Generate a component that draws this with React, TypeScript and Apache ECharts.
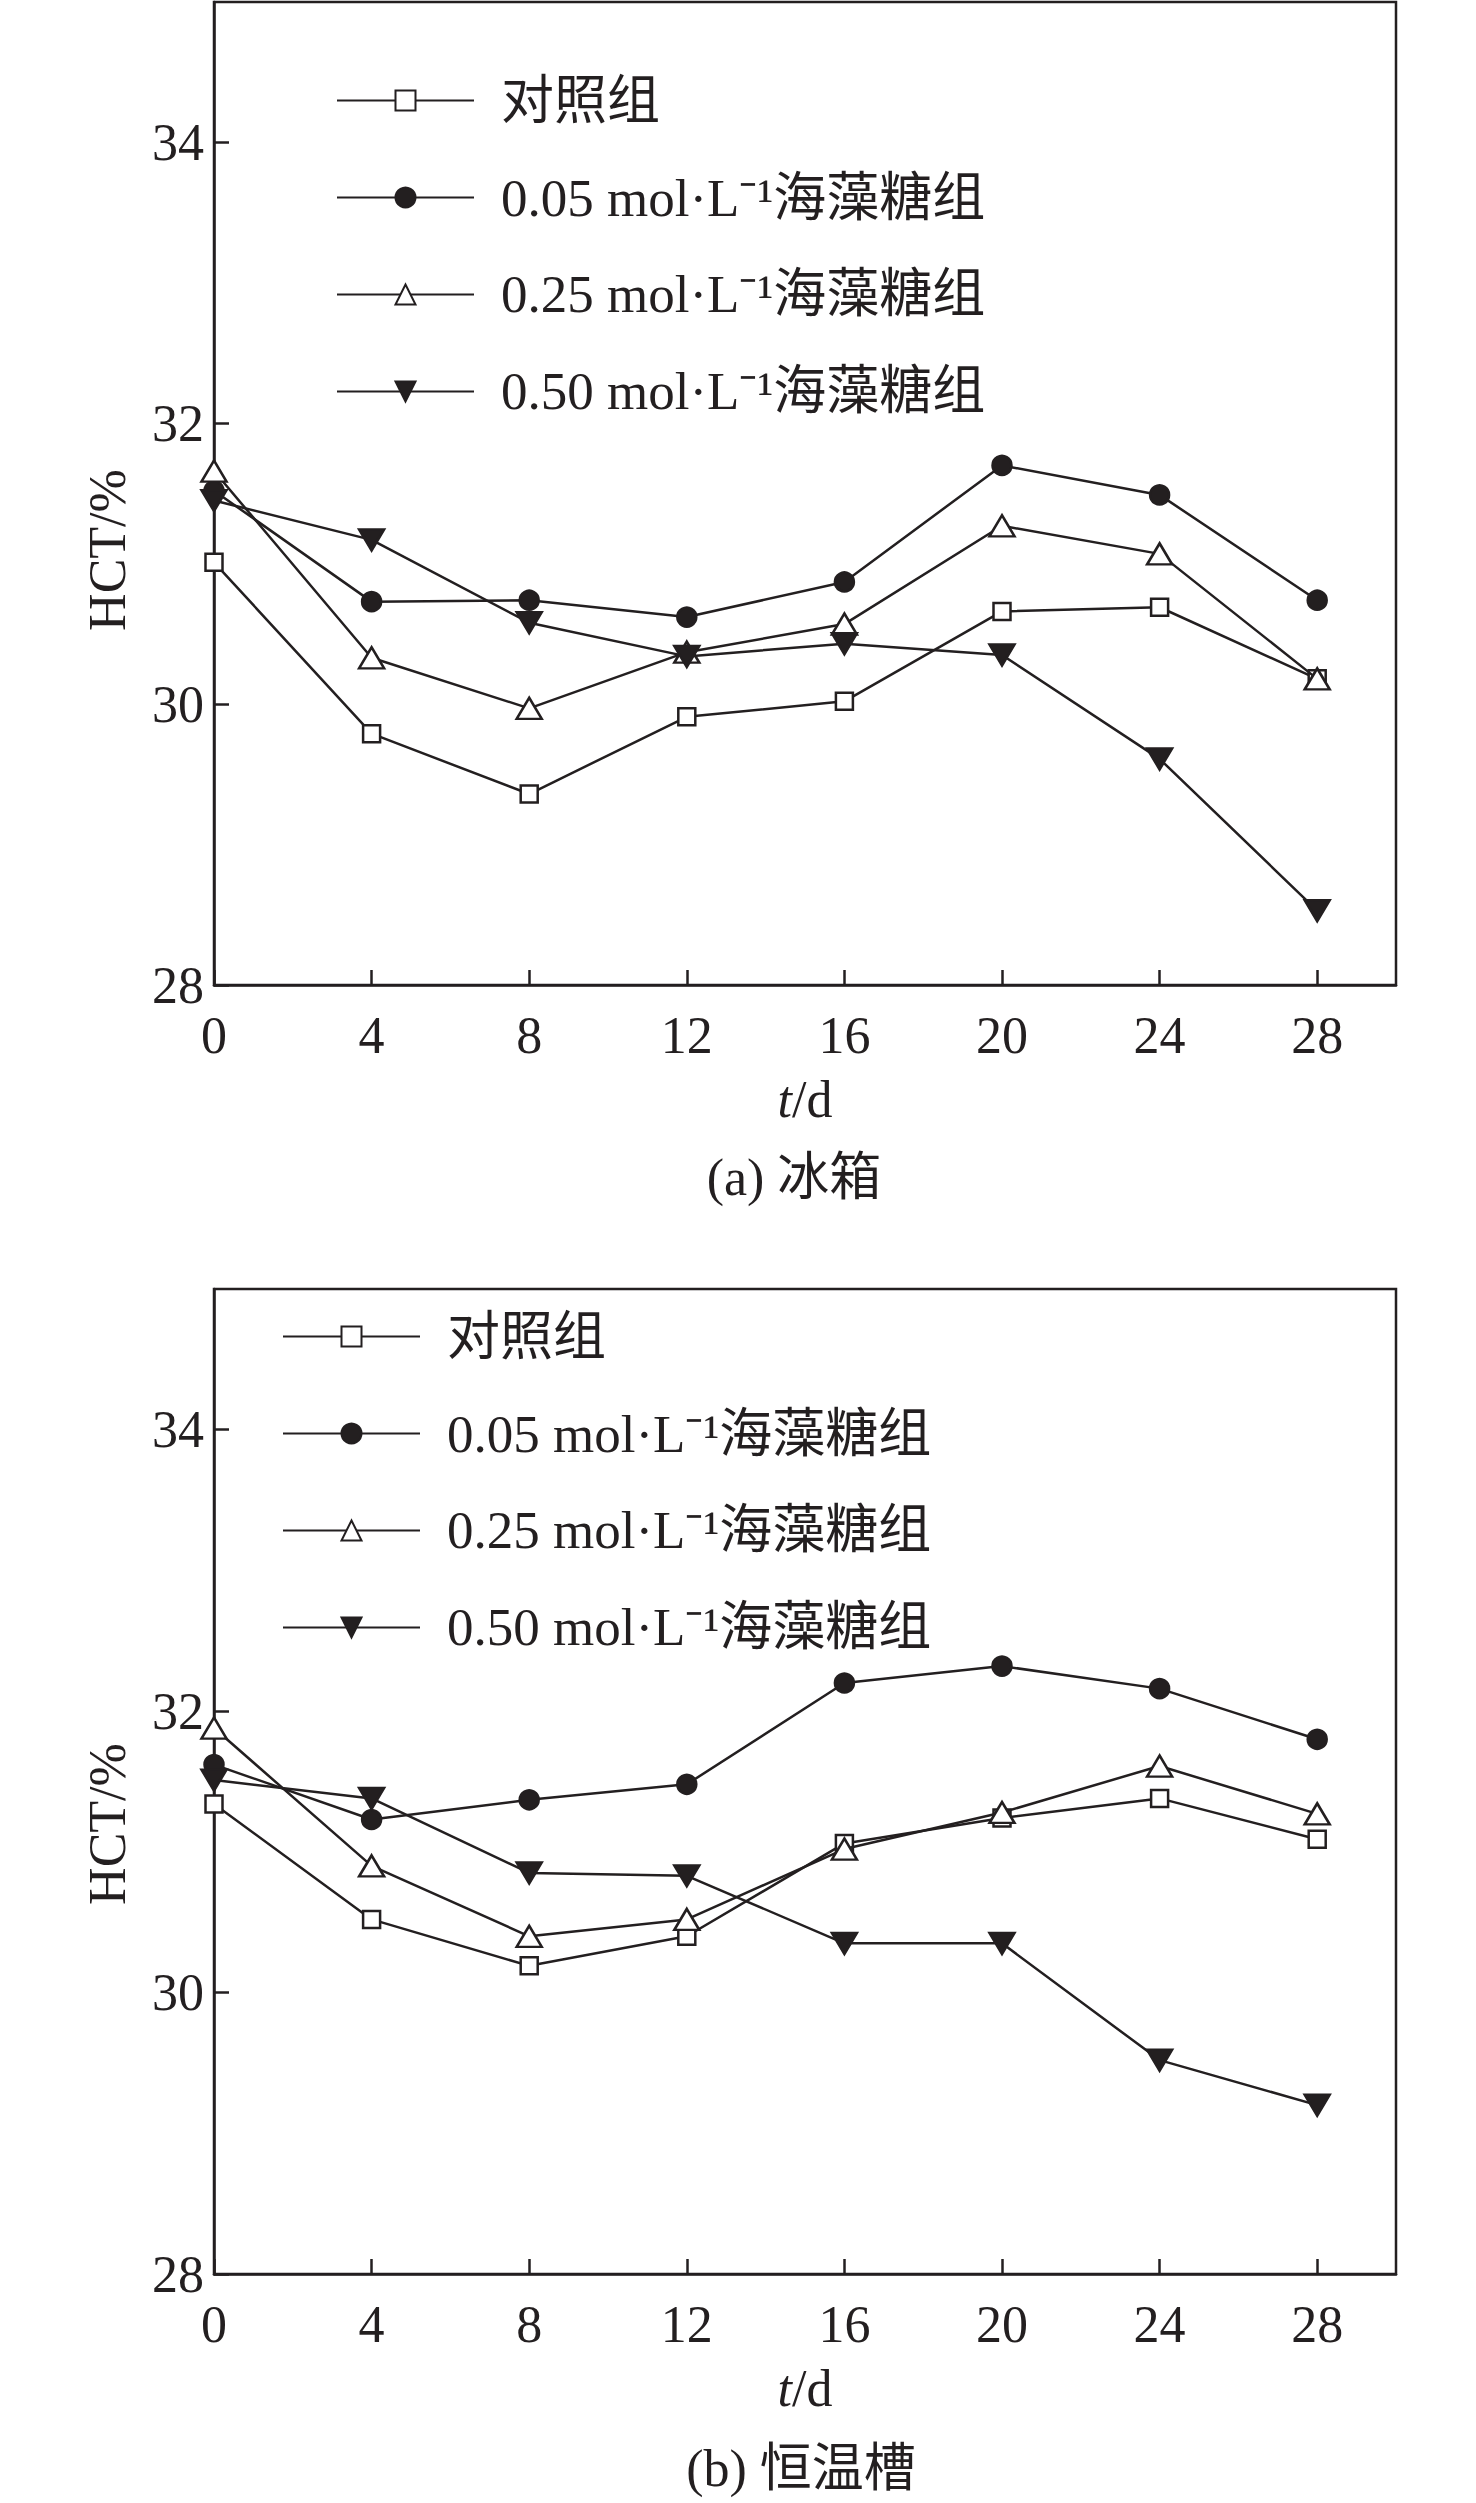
import React, { useEffect, useRef } from "react";
import * as echarts from "echarts";

// ---- data ----
const days = [0, 4, 8, 12, 16, 20, 24, 28];
const seriesNames = [
  "对照组",
  "0.05 mol·L⁻¹海藻糖组",
  "0.25 mol·L⁻¹海藻糖组",
  "0.50 mol·L⁻¹海藻糖组",
];
const captions = ["(a) 冰箱", "(b) 恒温槽"];
const yAxisTitle = "HCT/%";
const xAxisTitle = "{i|t}/d";

// (a) 冰箱
const fridgeControl = [31.01, 29.79, 29.36, 29.91, 30.02, 30.66, 30.69, 30.18];
const fridge005 = [31.52, 30.73, 30.74, 30.62, 30.87, 31.7, 31.49, 30.74];
const fridge025 = [31.66, 30.33, 29.97, 30.37, 30.57, 31.27, 31.07, 30.18];
const fridge050 = [31.45, 31.17, 30.58, 30.34, 30.43, 30.35, 29.61, 28.53];

// (b) 恒温槽
const bathControl = [31.34, 30.52, 30.19, 30.4, 31.06, 31.24, 31.38, 31.09];
const bath005 = [31.62, 31.23, 31.37, 31.48, 32.2, 32.32, 32.16, 31.8];
const bath025 = [31.88, 30.9, 30.4, 30.52, 31.02, 31.28, 31.61, 31.27];
const bath050 = [31.51, 31.38, 30.85, 30.83, 30.35, 30.35, 29.52, 29.2];

const panels = [
  [fridgeControl, fridge005, fridge025, fridge050],
  [bathControl, bath005, bath025, bath050],
];

// ---- styles ----
const INK = "#231f20";
const FF = "'Liberation Serif', 'Times New Roman', 'Noto Sans CJK SC', serif";
const FS = 52;

const grids = [
  { left: 214, top: 2, width: 1182, height: 983 },
  { left: 214, top: 1289, width: 1182, height: 985 },
];
const legendPos = [
  { left: 336, top: 74 },
  { left: 282, top: 1310 },
];
const yTitlePos = [
  { x: 107, y: 550 },
  { x: 107, y: 1824 },
];
const captionPos = [
  { x: 794, y: 1177 },
  { x: 801, y: 2468 },
];

const symbolDefs = [
  { symbol: "rect", symbolSize: 17, fill: "#ffffff" },
  { symbol: "circle", symbolSize: 19, fill: INK },
  { symbol: "triangle", symbolSize: [25, 21], fill: "#ffffff" },
  { symbol: "path://M0,0L20,0L10,17Z", symbolSize: [25, 21], fill: INK },
];

function buildOption() {
  const series: any[] = [];
  panels.forEach((panel, gi) => {
    panel.forEach((vals, si) => {
      const sd = symbolDefs[si];
      series.push({
        type: "line",
        name: seriesNames[si],
        xAxisIndex: gi,
        yAxisIndex: gi,
        data: days.map((d, k) => [d, vals[k]]),
        symbol: sd.symbol,
        symbolSize: sd.symbolSize,
        showAllSymbol: true,
        lineStyle: { color: INK, width: 2.5 },
        itemStyle: { color: sd.fill, borderColor: INK, borderWidth: 2.5, opacity: 1 },
        emphasis: { disabled: true },
        z: 2 + si,
      });
    });
  });

  const axisLineStyle = { color: INK, width: 2.5 };

  return {
    animation: false,
    backgroundColor: "#ffffff",
    grid: grids.map((g) => ({
      ...g,
      show: true,
      borderColor: INK,
      borderWidth: 2.5,
      backgroundColor: "transparent",
      containLabel: false,
    })),
    xAxis: grids.map((_, gi) => ({
      type: "value",
      gridIndex: gi,
      min: 0,
      max: 30,
      interval: 4,
      name: xAxisTitle,
      nameLocation: "middle",
      nameGap: 88,
      nameTextStyle: {
        fontFamily: FF,
        fontSize: FS,
        color: INK,
        rich: {
          i: { fontFamily: FF, fontSize: FS, color: INK, fontStyle: "italic" },
        },
      },
      axisLine: { show: true, onZero: false, lineStyle: axisLineStyle },
      axisTick: { show: true, inside: true, length: 15, lineStyle: axisLineStyle },
      axisLabel: {
        showMaxLabel: false,
        margin: 24,
        fontFamily: FF,
        fontSize: FS,
        color: INK,
      },
      splitLine: { show: false },
    })),
    yAxis: grids.map((_, gi) => ({
      type: "value",
      gridIndex: gi,
      min: 28,
      max: 35,
      interval: 2,
      axisLine: { show: true, onZero: false, lineStyle: axisLineStyle },
      axisTick: { show: true, inside: true, length: 15, lineStyle: axisLineStyle },
      axisLabel: {
        showMaxLabel: false,
        margin: 10,
        fontFamily: FF,
        fontSize: FS,
        color: INK,
      },
      splitLine: { show: false },
    })),
    legend: legendPos.map((p) => ({
      orient: "vertical",
      left: p.left,
      top: p.top,
      padding: 0,
      itemWidth: 137,
      itemHeight: 25,
      itemGap: 44,
      selectedMode: false,
      data: seriesNames,
      textStyle: {
        fontFamily: FF,
        fontSize: 53,
        color: INK,
        padding: [0, 0, 0, 22],
      },
    })),
    graphic: [
      ...yTitlePos.map((p) => ({
        type: "text",
        x: p.x,
        y: p.y,
        rotation: Math.PI / 2,
        style: {
          text: yAxisTitle,
          fontFamily: FF,
          fontSize: FS,
          fill: INK,
          align: "center",
          verticalAlign: "middle",
          textAlign: "center",
          textVerticalAlign: "middle",
        },
      })),
      ...captionPos.map((p, i) => ({
        type: "text",
        x: p.x,
        y: p.y,
        style: {
          text: captions[i],
          fontFamily: FF,
          fontSize: FS,
          fill: INK,
          align: "center",
          verticalAlign: "middle",
          textAlign: "center",
          textVerticalAlign: "middle",
        },
      })),
    ],
    series,
  };
}

export default function App() {
  const ref = useRef<HTMLDivElement>(null);
  useEffect(() => {
    if (!ref.current) return;
    const chart = echarts.init(ref.current, undefined, { renderer: "svg" });
    chart.setOption(buildOption() as any);
    return () => chart.dispose();
  }, []);
  return (
    <div
      ref={ref}
      style={{
        position: "absolute",
        left: 0,
        top: 0,
        width: 1476,
        height: 2503,
        background: "#ffffff",
      }}
    />
  );
}
